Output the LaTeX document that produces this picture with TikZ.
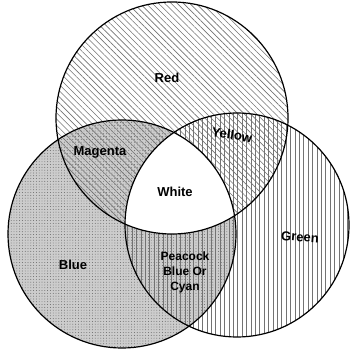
\documentclass[tikz,border=0pt]{standalone}
\usepackage{fontspec}
\setmainfont{Liberation Sans}
\usetikzlibrary{patterns.meta}

\begin{document}
\begin{tikzpicture}[x=1pt,y=1pt,
  rim/.style={draw=black,line width=1.2pt},
  tag/.style={font=\fontsize{13}{14}\selectfont\bfseries,inner sep=0pt}]
\useasboundingbox (0,0) rectangle (349,355);
\coordinate (red) at (172,237);
\coordinate (blue) at (122,121);
\coordinate (green) at (237,130);
% Blue: grey dots
\fill[black!20] (blue) circle (114);
\fill[pattern={Dots[distance=2.8pt,radius=0.45pt]},pattern color=black!65] (blue) circle (114);
% Red: diagonal lines
\fill[pattern={Lines[angle=-45,distance=4.4pt,line width=0.6pt]},pattern color=black!55] (red) circle (116);
% Green: vertical lines
\fill[pattern={Lines[angle=90,distance=4.4pt,line width=0.6pt]},pattern color=black!55] (green) circle (112);
% White: all three
\begin{scope}
\clip (red) circle (116);
\clip (blue) circle (114);
\fill[white] (green) circle (112);
\end{scope}
% rims
\draw[rim] (red) circle (116);
\draw[rim] (blue) circle (114);
\draw[rim] (green) circle (112);
% labels
\node[tag] (lred) at (167,277) {Red};
\node[tag] (lmag) at (100,203) {Magenta};
\node[tag,rotate=-8] (lyel) at (232,220) {Yellow};
\node[tag] (lwhite) at (175,163) {White};
\node[tag] (lblue) at (73,90) {Blue};
\node[tag,rotate=-4] (lgreen) at (300,118) {Green};
\node[tag,align=center,font=\fontsize{12}{15}\selectfont\bfseries] (lcyan) at (185,83) {Peacock\\Blue Or\\Cyan};
\end{tikzpicture}
\end{document}
